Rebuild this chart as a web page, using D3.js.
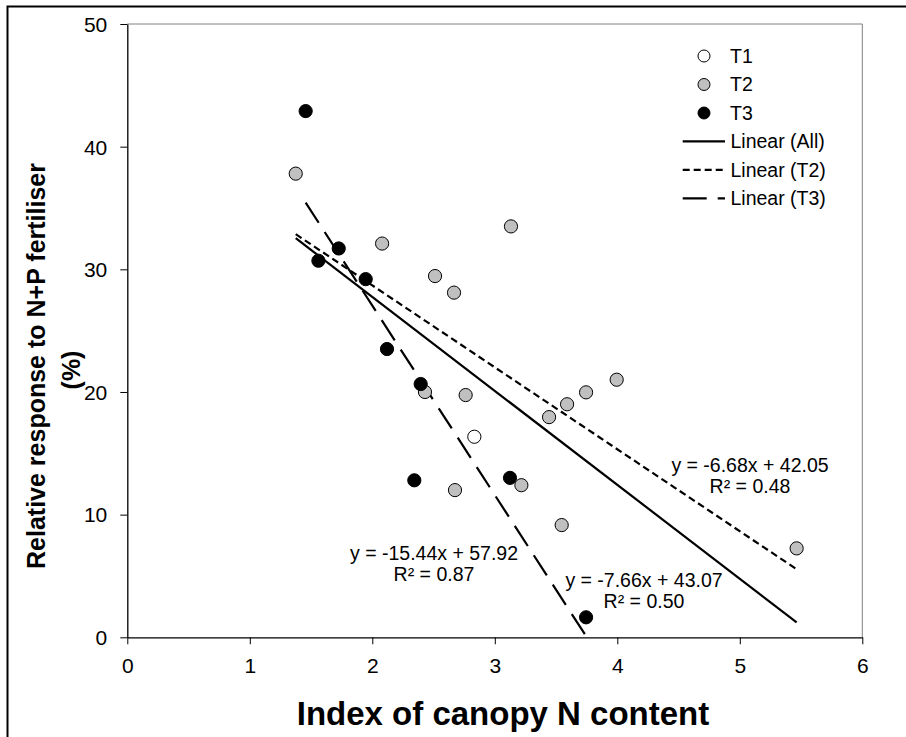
<!DOCTYPE html>
<html>
<head>
<meta charset="utf-8">
<script src="https://cdn.jsdelivr.net/npm/d3@7"></script>
<style>
  body { margin: 0; background: #fff; }
  text { font-family: "Liberation Sans", Arial, sans-serif; }
</style>
</head>
<body>
<div id="chart"></div>
<script>
// Points (x = index of canopy N content, y = relative response %), drawn in this order
const pointX     = [1.375, 2.08, 2.512, 2.667, 3.132, 2.43, 2.762, 2.675, 3.995, 3.745, 3.59, 3.443, 3.546, 5.464,
                    1.456, 1.726, 1.56, 1.946, 2.12, 2.395, 2.343, 3.124, 3.745,
                    3.217, 2.833];
const pointY     = [37.8, 32.1, 29.45, 28.1, 33.5, 20.0, 19.75, 12.0, 21.0, 19.97, 19.0, 17.95, 9.15, 7.25,
                    42.9, 31.7, 30.7, 29.2, 23.5, 20.65, 12.8, 13.0, 1.63,
                    12.4, 16.35];
const pointGroup = ["T2", "T2", "T2", "T2", "T2", "T2", "T2", "T2", "T2", "T2", "T2", "T2", "T2", "T2",
                    "T3", "T3", "T3", "T3", "T3", "T3", "T3", "T3", "T3",
                    "T2", "T1"];

const groups      = ["T1", "T2", "T3"];
const groupFill   = { T1: "#ffffff", T2: "#c0c0c0", T3: "#000000" };

// Fitted lines as printed on the chart
const fitNames  = ["Linear (All)", "Linear (T2)", "Linear (T3)"];
const fitGroups = [null, "T2", "T3"];
const fitSlope  = [-7.66, -6.68, -15.44];
const fitIcept  = [43.07, 42.05, 57.92];
const fitR2     = ["0.50", "0.48", "0.87"];
const fitDash   = [null, "7,4", "24,11"];

const xTicks = [0, 1, 2, 3, 4, 5, 6];
const yTicks = [0, 10, 20, 30, 40, 50];

const W = 906, H = 737;
const margin = { left: 127.3, right: W - 862.3, top: 24, bottom: H - 637.3 };

const svg = d3.select("#chart").append("svg")
    .attr("width", W).attr("height", H);

// outer frame (only top and left edges are visible in the crop)
svg.append("path")
    .attr("d", `M7.5,${H} V6.5 H${W}`)
    .attr("fill", "none").attr("stroke", "#000").attr("stroke-width", 2);

const x = d3.scaleLinear().domain([0, 6]).range([margin.left, W - margin.right]);
const y = d3.scaleLinear().domain([0, 50]).range([H - margin.bottom, margin.top]);

// plot frame top/right
svg.append("path")
    .attr("d", `M${x(0)},${y(50)} H${x(6)} V${y(0)}`)
    .attr("fill", "none").attr("stroke", "#808080").attr("stroke-width", 1);

const xAxis = svg.append("g")
    .attr("transform", `translate(0,${y(0)})`)
    .call(d3.axisBottom(x).tickValues(xTicks).tickSize(7).tickSizeOuter(0).tickFormat(d3.format("d")));
const yAxis = svg.append("g")
    .attr("transform", `translate(${x(0)},0)`)
    .call(d3.axisLeft(y).tickValues(yTicks).tickSize(7).tickSizeOuter(0).tickFormat(d3.format("d")));

[xAxis, yAxis].forEach(g => {
    g.select(".domain").attr("stroke", "#000").attr("stroke-width", 1.3);
    g.selectAll(".tick line").attr("stroke", "#000").attr("stroke-width", 1);
    g.selectAll(".tick text")
        .attr("fill", "#000")
        .style("font-size", "21px")
        .style("font-family", "'Liberation Sans', Arial, sans-serif");
});
xAxis.selectAll(".tick text").attr("y", 28).attr("dy", "0.35em");
yAxis.selectAll(".tick text").attr("x", -20).attr("dy", "0.35em");

// axis titles
svg.append("text")
    .attr("x", 503).attr("y", 725)
    .attr("text-anchor", "middle")
    .style("font-size", "33px").style("font-weight", "bold")
    .text("Index of canopy N content");

const yTitle = svg.append("text")
    .attr("transform", "translate(45,366) rotate(-90)")
    .attr("text-anchor", "middle")
    .style("font-size", "25px").style("font-weight", "bold");
yTitle.append("tspan").attr("x", 0).attr("y", 0).text("Relative response to N+P fertiliser");
yTitle.append("tspan").attr("x", -4).attr("y", 35).text("(%)");

// trend lines over the x range of their data
const idx = d3.range(pointX.length);
fitNames.forEach((name, i) => {
    const members = idx.filter(j => fitGroups[i] === null || pointGroup[j] === fitGroups[i]);
    const [x0, x1] = d3.extent(members, j => pointX[j]);
    svg.append("line")
        .attr("x1", x(x0)).attr("y1", y(fitSlope[i] * x0 + fitIcept[i]))
        .attr("x2", x(x1)).attr("y2", y(fitSlope[i] * x1 + fitIcept[i]))
        .attr("stroke", "#000").attr("stroke-width", 2.2)
        .attr("stroke-dasharray", fitDash[i]);
});

// points
svg.append("g").selectAll("circle")
    .data(idx)
    .join("circle")
    .attr("cx", j => x(pointX[j]))
    .attr("cy", j => y(pointY[j]))
    .attr("r", 6.6)
    .attr("fill", j => groupFill[pointGroup[j]])
    .attr("stroke", "#000").attr("stroke-width", 1);

// equation labels (center x, baseline y); hyphen as minus sign like the original
const eqPos = [[644, 587], [750, 472], [434, 560]];
const fmt = v => d3.format(".2f")(v).replace("−", "-");
fitNames.forEach((name, i) => {
    const t = svg.append("text")
        .attr("text-anchor", "middle")
        .style("font-size", "19.5px");
    t.append("tspan").attr("x", eqPos[i][0]).attr("y", eqPos[i][1])
        .text(`y = ${fmt(fitSlope[i])}x + ${fmt(fitIcept[i])}`);
    t.append("tspan").attr("x", eqPos[i][0]).attr("y", eqPos[i][1] + 21)
        .text(`R² = ${fitR2[i]}`);
});

// legend
const leg = svg.append("g");
groups.forEach((g, i) => {
    const cy = 56 + i * 28.5;
    leg.append("circle")
        .attr("cx", 704).attr("cy", cy).attr("r", 6)
        .attr("fill", groupFill[g]).attr("stroke", "#000").attr("stroke-width", 1);
    leg.append("text")
        .attr("x", 730).attr("y", cy).attr("dy", "0.35em")
        .style("font-size", "19.5px").text(g);
});
fitNames.forEach((name, i) => {
    const cy = 141.3 + i * 28.5;
    leg.append("line")
        .attr("x1", 682.7).attr("x2", 725).attr("y1", cy).attr("y2", cy)
        .attr("stroke", "#000").attr("stroke-width", 2.2)
        .attr("stroke-dasharray", fitDash[i]);
    leg.append("text")
        .attr("x", 730.5).attr("y", cy).attr("dy", "0.35em")
        .style("font-size", "19.5px").text(name);
});
</script>
</body>
</html>
